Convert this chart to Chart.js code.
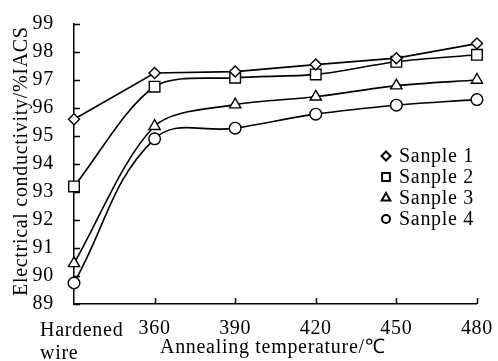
<!DOCTYPE html>
<html>
<head>
<meta charset="utf-8">
<script src="https://cdn.jsdelivr.net/npm/chart.js@4"></script>
<style>
  html, body { margin: 0; padding: 0; background: #fff; }
  #wrap { width: 498px; height: 361px; }
</style>
</head>
<body>
<div id="wrap"><canvas id="condChart"></canvas></div>
<script>
const categories = ['Hardened wire', '360', '390', '420', '450', '480'];
const sample1 = [95.6, 97.25, 97.3, 97.55, 97.78, 98.3];
const sample2 = [93.2, 96.76, 97.08, 97.2, 97.65, 97.9];
const sample3 = [90.45, 95.35, 96.12, 96.4, 96.8, 97.0];
const sample4 = [89.75, 94.9, 95.28, 95.78, 96.1, 96.3];
const seriesNames = ['Sanple 1', 'Sanple 2', 'Sanple 3', 'Sanple 4'];
const markers = ['rectRot', 'rect', 'triangle', 'circle'];
const curviness = [0, 0.3, 0.3, 0.4];
const yTitle = 'Electrical conductivity/%IACS';
const xTitle = 'Annealing temperature/\u2103';

const FONT = "'Liberation Serif', 'Times New Roman', serif";
const SPACING = '0.7px';
// marker radius per style, on the plot and in the legend
const plotSize = { rectRot: 5.5, rect: 7.5, triangle: 6.5, circle: 5.8 };
const keySize = { rectRot: 4.5, rect: 5.5, triangle: 5, circle: 4 };
Chart.defaults.font.family = FONT;
Chart.defaults.font.size = 20;
Chart.defaults.color = '#000';

function makeSet(i, data) {
    return {
        label: seriesNames[i],
        data: data,
        borderColor: '#000',
        borderWidth: 1.6,
        tension: curviness[i],
        pointStyle: markers[i],
        pointRadius: plotSize[markers[i]],
        pointBorderWidth: 1.4,
        pointBackgroundColor: '#fff',
        pointBorderColor: '#000'
    };
}

// letter spacing like the printed figure, plus inner ticks, titles and legend
const figureExtras = {
    id: 'figureExtras',
    beforeLayout(chart) { chart.ctx.letterSpacing = SPACING; },
    beforeDraw(chart) { chart.ctx.letterSpacing = SPACING; },
    afterDraw(chart) {
        const ctx = chart.ctx;
        const xs = chart.scales.x, ys = chart.scales.y;
        ctx.save();
        ctx.strokeStyle = '#000';
        ctx.lineWidth = 1.5;
        ctx.beginPath();
        ys.ticks.forEach((t, i) => {
            const py = Math.round(ys.getPixelForTick(i)) + 0.5;
            ctx.moveTo(xs.left, py);
            ctx.lineTo(xs.left + 6, py);
        });
        xs.ticks.forEach((t, i) => {
            if (i === 0) return;
            const px = Math.round(xs.getPixelForTick(i)) + 0.5;
            ctx.moveTo(px, ys.bottom);
            ctx.lineTo(px, ys.bottom - 6);
        });
        ctx.stroke();

        ctx.fillStyle = '#000';
        ctx.font = '20px ' + FONT;
        ctx.letterSpacing = SPACING;
        ctx.textBaseline = 'alphabetic';
        ctx.textAlign = 'left';
        // first category label, left aligned on two lines
        ctx.fillText('Hardened', 40, 336);
        ctx.fillText('wire', 40, 359);
        // x title
        ctx.fillText(xTitle, 160, 353);
        // y title
        ctx.save();
        ctx.translate(27, 296);
        ctx.rotate(-Math.PI / 2);
        ctx.fillText(yTitle, 0, 0);
        ctx.restore();

        // legend
        const lx = 386, ly = 156, step = 21;
        chart.data.datasets.forEach((ds, i) => {
            const y = ly + i * step;
            ctx.fillStyle = '#fff';
            ctx.strokeStyle = '#000';
            ctx.lineWidth = 2;
            Chart.helpers.drawPoint(ctx, {
                pointStyle: ds.pointStyle,
                radius: keySize[ds.pointStyle],
                borderWidth: 2
            }, lx, y);
            ctx.fillStyle = '#000';
            ctx.textBaseline = 'middle';
            ctx.fillText(ds.label, 399, y + 1);
        });
        ctx.restore();
    }
};

new Chart(document.getElementById('condChart'), {
    type: 'line',
    data: {
        labels: categories,
        datasets: [
            makeSet(0, sample1),
            makeSet(1, sample2),
            makeSet(2, sample3),
            makeSet(3, sample4)
        ]
    },
    options: {
        responsive: true,
        maintainAspectRatio: false,
        animation: false,
        layout: { padding: { top: 15, right: 16, left: 0, bottom: 0 } },
        plugins: {
            legend: { display: false },
            tooltip: { enabled: false }
        },
        scales: {
            x: {
                offset: false,
                grid: { display: false, offset: false },
                border: { color: '#000', width: 1.5 },
                afterFit: s => { s.height = 57; },
                ticks: {
                    padding: 5,
                    maxRotation: 0,
                    autoSkip: false,
                    callback: (v, i) => i === 0 ? '' : categories[i]
                }
            },
            y: {
                min: 89,
                max: 99,
                grid: { display: false },
                border: { color: '#000', width: 1.5 },
                afterFit: s => { s.width = 74; },
                ticks: { stepSize: 1, padding: 12 }
            }
        }
    },
    plugins: [figureExtras]
});
</script>
</body>
</html>
